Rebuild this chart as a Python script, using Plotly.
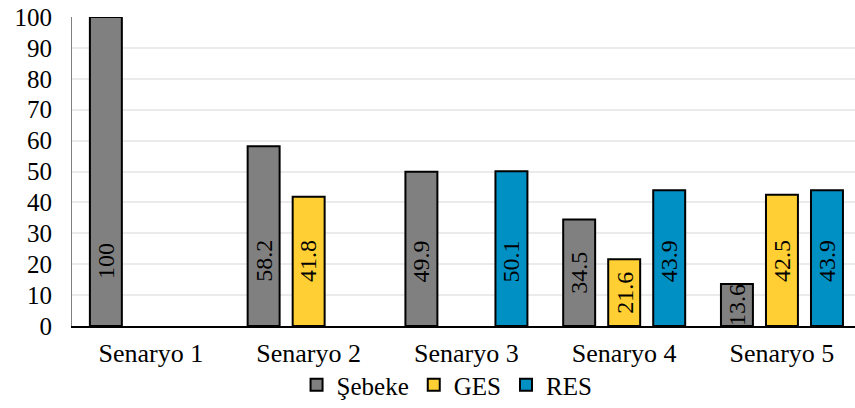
import plotly.graph_objects as go

categories = ["Senaryo 1", "Senaryo 2", "Senaryo 3", "Senaryo 4", "Senaryo 5"]
sebeke = [100, 58.2, 49.9, 34.5, 13.6]
ges = [None, 41.8, None, 21.6, 42.5]
res = [None, None, 50.1, 43.9, 43.9]
series_names = ["Şebeke", "GES", "RES"]
y_ticks = [0, 10, 20, 30, 40, 50, 60, 70, 80, 90, 100]

colors = ["#808080", "#FFCF33", "#0090C4"]
FONT = "Liberation Serif"
BARGAP = 0.144
BARGROUPGAP = 0.29

fig = go.Figure()
all_series = [sebeke, ges, res]
for name, vals, col in zip(series_names, all_series, colors):
    fig.add_trace(go.Bar(
        x=list(range(len(categories))), y=vals, name=name,
        marker=dict(color=col, line=dict(color="#000000", width=2)),
    ))

slot = (1 - BARGAP) / len(all_series)
for i, vals in enumerate(all_series):
    off = (i - (len(all_series) - 1) / 2) * slot
    for j, v in enumerate(vals):
        if v is None:
            continue
        fig.add_annotation(
            x=j + off, y=min(v / 2, 21), xref="x", yref="y",
            text=f"{v:g}", textangle=-90, showarrow=False,
            font=dict(family=FONT, size=24, color="#000000"),
        )

fig.update_layout(
    width=855, height=408,
    margin=dict(l=72, r=0, t=17, b=81),
    paper_bgcolor="white", plot_bgcolor="white",
    barmode="group", bargap=BARGAP, bargroupgap=BARGROUPGAP,
    font=dict(family=FONT, size=24, color="#000000"),
    legend=dict(orientation="h", x=0.479, xanchor="center", y=-0.19, yanchor="middle",
                font=dict(family=FONT, size=25), itemwidth=30, traceorder="normal",
                tracegroupgap=0, bgcolor="rgba(0,0,0,0)"),
    showlegend=True,
)
fig.update_xaxes(
    tickmode="array", tickvals=list(range(len(categories))), ticktext=categories,
    range=[-0.5, 4.463], showline=True, linecolor="#000000", linewidth=2,
    showgrid=False, ticks="", tickfont=dict(family=FONT, size=26), ticklabelstandoff=3,
)
fig.update_yaxes(
    range=[0, 100], tickvals=y_ticks, showgrid=True, gridcolor="#EBEBEB", gridwidth=2,
    showline=True, linecolor="#7F7F7F", linewidth=1, ticks="", zeroline=False,
    tickfont=dict(family=FONT, size=25), ticklabelstandoff=14,
)
fig.write_html("out.html")
